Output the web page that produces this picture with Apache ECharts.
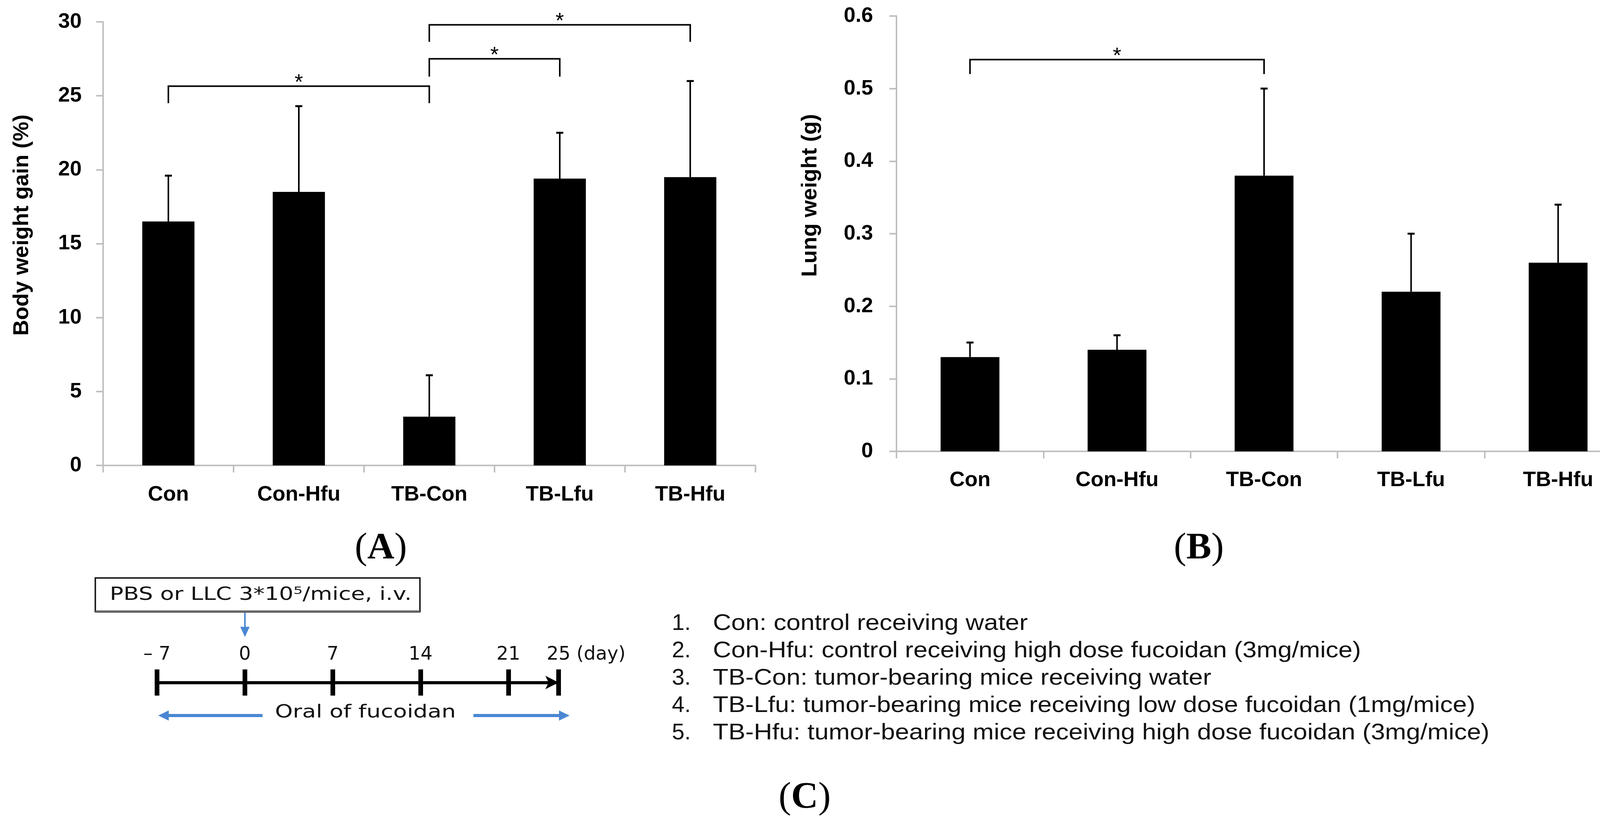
<!DOCTYPE html>
<html>
<head>
<meta charset="utf-8">
<script src="https://cdn.jsdelivr.net/npm/echarts@6/dist/echarts.min.js"></script>
<style>
html,body{margin:0;padding:0;background:#fff}
#c{width:4131px;height:2106px}
</style>
</head>
<body>
<div id="c"></div>
<script>
// groups and values
const groups = ['Con', 'Con-Hfu', 'TB-Con', 'TB-Lfu', 'TB-Hfu'];
const gainMean = [16.5, 18.5, 3.3, 19.4, 19.5];
const gainErrTop = [19.6, 24.3, 6.1, 22.5, 26.0];
const lungMean = [0.13, 0.14, 0.38, 0.22, 0.26];
const lungErrTop = [0.15, 0.16, 0.50, 0.30, 0.34];
// significance brackets: [from group, to group, bar level, leg end]
const gainSig = [[0, 2, 25.65, 24.5], [2, 3, 27.5, 26.3], [2, 4, 29.8, 28.65]];
const lungSig = [[0, 2, 0.54, 0.52]];
// timeline (panel C)
const days = [-7, 0, 7, 14, 21, 25];
const legendItems = [
  'Con: control receiving water',
  'Con-Hfu: control receiving high dose fucoidan (3mg/mice)',
  'TB-Con: tumor-bearing mice receiving water',
  'TB-Lfu: tumor-bearing mice receiving low dose fucoidan (1mg/mice)',
  'TB-Hfu: tumor-bearing mice receiving high dose fucoidan (3mg/mice)'
];
const boxText = 'PBS or LLC 3*10\u2075/mice, i.v.';
const gainTitle = 'Body weight gain (%)';
const lungTitle = 'Lung weight (g)';

const SANS = "'Liberation Sans',Arial,sans-serif";
const WIDE = "'DejaVu Sans',Verdana,sans-serif";
const SERIF = "'Liberation Serif','Times New Roman',serif";
const GRAY = '#c0c0c0';
const BLUE = '#4a87d3';

const mctx = document.createElement('canvas').getContext('2d');
function tw(s, font){ mctx.font = font; return mctx.measureText(s).width; }

function errBars(idx, mean, top){
  return {
    type:'custom', xAxisIndex:idx, yAxisIndex:idx, z:4, silent:true,
    encode:{x:0, y:[1,2]},
    data: top.map((t,i)=>[i, mean[i], t]),
    renderItem:(p, api)=>{
      const a = api.coord([api.value(0), api.value(1)]);
      const b = api.coord([api.value(0), api.value(2)]);
      return {type:'group', children:[
        {type:'line', shape:{x1:a[0], y1:a[1], x2:b[0], y2:b[1]}, style:{stroke:'#000', lineWidth:4}},
        {type:'line', shape:{x1:b[0]-9, y1:b[1], x2:b[0]+9, y2:b[1]}, style:{stroke:'#000', lineWidth:5}}
      ]};
    }
  };
}
function brackets(idx, rows){
  return {
    type:'custom', xAxisIndex:idx, yAxisIndex:idx, z:4, silent:true,
    encode:{x:[0,1], y:[2,3]},
    data: rows,
    renderItem:(p, api)=>{
      const p0 = api.coord([api.value(0), api.value(3)]);
      const p1 = api.coord([api.value(0), api.value(2)]);
      const p2 = api.coord([api.value(1), api.value(2)]);
      const p3 = api.coord([api.value(1), api.value(3)]);
      return {type:'group', children:[
        {type:'polyline', shape:{points:[p0,p1,p2,p3]}, style:{stroke:'#000', lineWidth:4, fill:null}},
        {type:'text', x:(p1[0]+p2[0])/2, y:p1[1]-8,
          style:{text:'*', fontSize:56, fontFamily:SANS, fill:'#000', align:'center', verticalAlign:'middle'}}
      ]};
    }
  };
}
function catAxis(grid, margin){
  return {
    gridIndex:grid, type:'category', data:groups,
    axisLine:{show:true, lineStyle:{color:GRAY, width:4}},
    axisTick:{show:true, length:18, lineStyle:{color:GRAY, width:4}},
    axisLabel:{margin:margin, color:'#000', fontFamily:SANS, fontWeight:'bold', fontSize:54},
    splitLine:{show:false}
  };
}
function valAxis(grid, max, step, margin){
  return {
    gridIndex:grid, type:'value', min:0, max:max, interval:step,
    axisLine:{show:true, lineStyle:{color:GRAY, width:4}},
    axisTick:{show:true, length:18, lineStyle:{color:GRAY, width:4}},
    axisLabel:{margin:margin, color:'#000', fontFamily:SANS, fontWeight:'bold', fontSize:54},
    splitLine:{show:false}
  };
}

// timeline label for the last day carries the unit
const dayFont = '48px ' + WIDE;
const lastDay = days[days.length-1];
const dayPad = tw(lastDay + ' (day)', dayFont) - tw(String(lastDay), dayFont);

// stretch factors for the diagram texts (fonts are wider in the original)
const boxFont = '46px ' + WIDE;
const boxScale = 773 / tw(boxText, boxFont);
const oralFont = '46px ' + WIDE;
const oralScale = 463 / tw('Oral of fucoidan', oralFont);
const legFont = '58px ' + SANS;
const legScale = 1988 / tw(legendItems[4], legFont);

const graphics = [
  // y axis titles
  {type:'text', x:57, y:576, rotation:Math.PI/2,
    style:{text:gainTitle, font:'bold 56px ' + SANS, fill:'#000', align:'center', verticalAlign:'middle'}},
  {type:'text', x:2075, y:500, rotation:Math.PI/2,
    style:{text:lungTitle, font:'bold 56px ' + SANS, fill:'#000', align:'center', verticalAlign:'middle'}},
  // box + arrow to day 0
  {type:'rect', shape:{x:244, y:1479, width:831, height:86}, style:{fill:'#fff', stroke:'#222', lineWidth:4}},
  {type:'line', shape:{x1:244, y1:1565, x2:1075, y2:1565}, style:{stroke:'#666', lineWidth:6}},
  {type:'text', x:281, y:1523, scaleX:boxScale, style:{text:boxText, font:boxFont, fill:'#111', align:'left', verticalAlign:'middle'}},
  {type:'line', shape:{x1:627, y1:1568, x2:627, y2:1612}, style:{stroke:BLUE, lineWidth:4}},
  {type:'polygon', shape:{points:[[615,1604],[639,1604],[627,1630]]}, style:{fill:BLUE}},
  // oral dosing arrows
  {type:'text', x:704, y:1824, scaleX:oralScale, style:{text:'Oral of fucoidan', font:oralFont, fill:'#111', align:'left', verticalAlign:'middle'}},
  {type:'line', shape:{x1:672, y1:1831, x2:425, y2:1831}, style:{stroke:BLUE, lineWidth:8}},
  {type:'polygon', shape:{points:[[405,1831],[432,1818],[432,1844]]}, style:{fill:BLUE}},
  {type:'line', shape:{x1:1212, y1:1831, x2:1438, y2:1831}, style:{stroke:BLUE, lineWidth:8}},
  {type:'polygon', shape:{points:[[1458,1831],[1431,1818],[1431,1844]]}, style:{fill:BLUE}},
  // panel letters
  ...[['A',975,1404],['B',3069,1404],['C',2060,2042]].map(([l,x,y])=>({
    type:'text', x:x, y:y,
    style:{text:'{p|(}{b|'+l+'}{p|)}', align:'center', verticalAlign:'middle', fill:'#000',
      rich:{p:{fontFamily:SERIF, fontSize:96, fontWeight:'normal'}, b:{fontFamily:SERIF, fontSize:96, fontWeight:'bold'}}}
  }))
];
legendItems.forEach((t,i)=>{
  const y = 1596 + i*70;
  graphics.push({type:'text', x:1720, y:y, style:{text:(i+1)+'.', font:legFont, fill:'#111', align:'left', verticalAlign:'middle'}});
  graphics.push({type:'text', x:1825, y:y, scaleX:legScale, style:{text:t, font:legFont, fill:'#111', align:'left', verticalAlign:'middle'}});
});

const chart = echarts.init(document.getElementById('c'));
chart.setOption({
  backgroundColor:'#fff',
  animation:false,
  grid:[
    {left:264, top:56, width:1670, height:1135, outerBoundsMode:'none'},
    {left:2295, top:41, width:1882, height:1114, outerBoundsMode:'none'},
    {left:402, top:1713, width:1028, height:67, outerBoundsMode:'none'}
  ],
  xAxis:[
    catAxis(0, 48),
    catAxis(1, 47),
    {
      gridIndex:2, type:'value', min:days[0], max:lastDay, interval:days[2]-days[1], position:'top',
      axisLine:{show:true, onZero:true, lineStyle:{color:'#000', width:8}, symbol:['none','arrow'], symbolSize:[26,34]},
      axisTick:{show:false},
      splitLine:{show:true, lineStyle:{color:'#000', width:12}},
      axisLabel:{margin:13, color:'#111', fontFamily:WIDE, fontSize:48, showMinLabel:true, showMaxLabel:true,
        formatter:v=> v===lastDay ? '{e|'+v+' (day)}' : (v<0 ? '\u2013 '+(-v) : String(v)),
        rich:{e:{fontFamily:WIDE, fontSize:48, color:'#111', padding:[0,0,0,dayPad]}}}
    }
  ],
  yAxis:[
    valAxis(0, 30, 5, 55),
    valAxis(1, 0.6, 0.1, 60),
    {gridIndex:2, type:'value', min:-1, max:1, show:false}
  ],
  series:[
    {type:'bar', xAxisIndex:0, yAxisIndex:0, data:gainMean, barWidth:'40%', itemStyle:{color:'#000'}, silent:true},
    errBars(0, gainMean, gainErrTop),
    brackets(0, gainSig),
    {type:'bar', xAxisIndex:1, yAxisIndex:1, data:lungMean, barWidth:'40%', itemStyle:{color:'#000'}, silent:true},
    errBars(1, lungMean, lungErrTop),
    brackets(1, lungSig)
  ],
  graphic:{elements:graphics}
});
</script>
</body>
</html>
